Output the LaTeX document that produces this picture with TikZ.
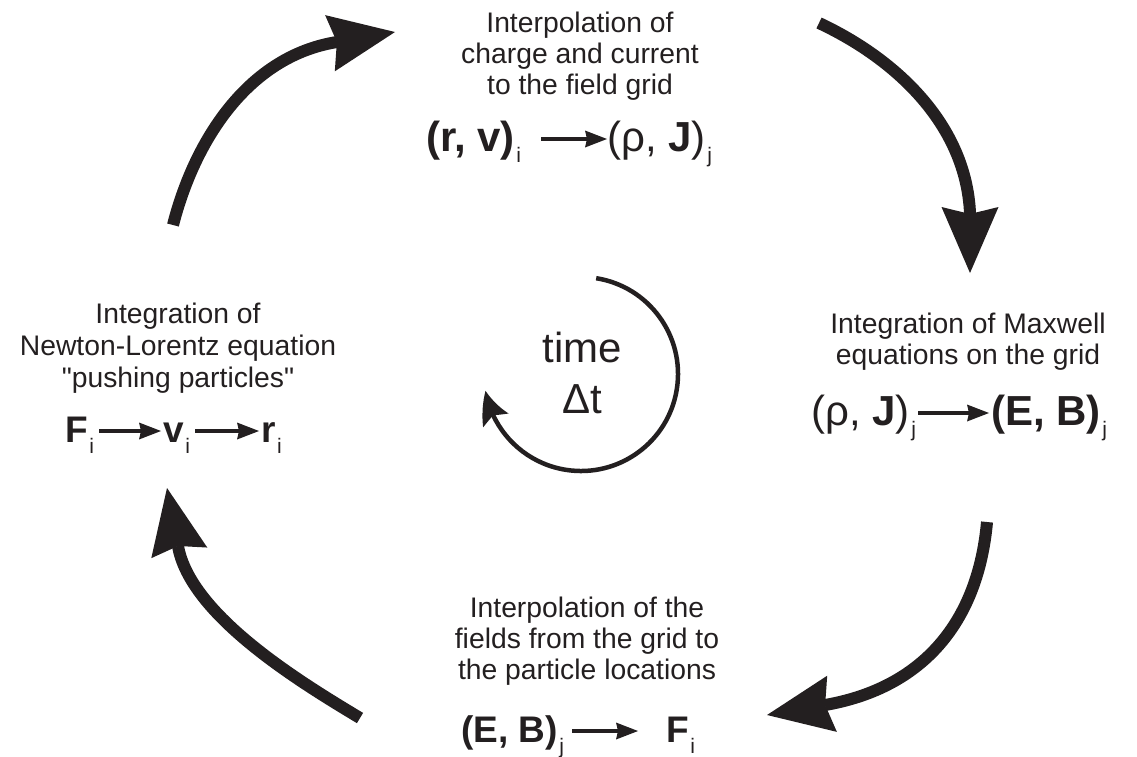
\documentclass[tikz,border=0pt]{standalone}
\usepackage{fontspec}
\setmainfont{Liberation Sans}[Ligatures=TeXOff]
\usetikzlibrary{arrows.meta,bending}
\definecolor{ink}{HTML}{231F20}
\newcommand{\sbs}[1]{\kern1.5pt\raisebox{-11pt}{\fontsize{21}{21}\selectfont\mdseries #1}}
\begin{document}
\begin{tikzpicture}[x=1pt,y=1pt,
  txt/.style={anchor=base, inner sep=0pt, font=\fontsize{28.3}{31}\selectfont, text=ink},
  fml/.style={anchor=base west, inner sep=0pt, font=\fontsize{37}{40}\selectfont, text=ink},
  fmlbig/.style={fml, font=\fontsize{42}{44}\selectfont},
  bigarrow/.style={draw=ink, line width=12pt, -{Stealth[length=66pt,width=57pt,inset=7pt,line width=0pt]}},
  farrow/.style={draw=ink, line width=3.8pt, -{Stealth[length=22pt,width=17pt,inset=2pt,line width=0pt]}},
  cycarrow/.style={draw=ink, line width=4.5pt, -{Stealth[length=32pt,width=29pt,inset=6pt,line width=0pt,bend]}}]
\useasboundingbox (0,0) rectangle (1137,-756);

% top block
\node[txt] (t1) at (580,-32) {Interpolation of};
\node[txt] (t2) at (580,-63) {charge and current};
\node[txt] (t3) at (580,-94) {to the field grid};
\node[fmlbig] (rv) at (426,-151) {\bfseries (r, v)\sbs{i}};
\node[fmlbig] (rj) at (607,-151) {(ρ, \textbf{J})\sbs{j}};
\draw[farrow] ([xshift=20pt,yshift=12pt]rv.base east) -- ([yshift=12pt]rj.base west);

% right block
\node[txt] (r1) at (968,-333) {Integration of Maxwell};
\node[txt] (r2) at (968,-364) {equations on the grid};
\node[fmlbig] (rj2) at (811,-425) {(ρ, \textbf{J})\sbs{j}};
\node[fmlbig] (eb) at (991,-425) {\bfseries (E, B)\sbs{j}};
\draw[farrow] ([xshift=2pt,yshift=12pt]rj2.base east) -- ([xshift=-2pt,yshift=12pt]eb.base west);

% left block
\node[txt] (l1) at (178,-323) {Integration of};
\node[txt] (l2) at (178,-355) {Newton-Lorentz equation};
\node[txt] (l3) at (178,-387) {"pushing particles"};
\node[fml] (F) at (65,-442) {\bfseries F\sbs{i}};
\node[fml] (v) at (163,-442) {\bfseries v\sbs{i}};
\node[fml] (r) at (261,-442) {\bfseries r\sbs{i}};
\draw[farrow] ([xshift=5pt,yshift=11pt]F.base east) -- ([xshift=-2pt,yshift=11pt]v.base west);
\draw[farrow] ([xshift=5pt,yshift=11pt]v.base east) -- ([xshift=-2pt,yshift=11pt]r.base west);

% bottom block
\node[txt] (b1) at (587,-617) {Interpolation of the};
\node[txt] (b2) at (587,-648) {fields from the grid to};
\node[txt] (b3) at (587,-679) {the particle locations};
\node[fml] (eb2) at (461,-742) {\bfseries (E, B)\sbs{j}};
\node[fml] (Fi) at (666,-742) {\bfseries F\sbs{i}};
\draw[farrow] ([xshift=8pt,yshift=11pt]eb2.base east) -- ([xshift=-28pt,yshift=11pt]Fi.base west);

% centre
\node[txt, font=\fontsize{42}{50}\selectfont] (time) at (582,-362) {time};
\node[txt, font=\fontsize{42}{50}\selectfont] (dt) at (582,-413) {Δt};
\coordinate (cyc) at (581,-374);
\draw[cycarrow] ([shift={(81:97)}]cyc) arc[start angle=81, end angle=-170, radius=97];

% big cycle arrows
\coordinate (tlS) at (173,-225); \coordinate (tlT) at (395,-32);
\coordinate (trS) at (819,-23);  \coordinate (trT) at (970,-273);
\coordinate (brS) at (987,-522); \coordinate (brT) at (767,-715);
\coordinate (blS) at (360,-718); \coordinate (blT) at (167,-488);
\draw[bigarrow] (tlS) .. controls (195,-139) and (249,-56) .. (337,-42) -- (tlT);
\draw[bigarrow] (trS) .. controls (898,-60) and (966,-126) .. (970,-213) -- (trT);
\draw[bigarrow] (brS) .. controls (978,-622) and (923,-688) .. (825,-705) -- (brT);
\draw[bigarrow] (blS) .. controls (300,-682) and (190,-615) .. (178,-546) -- (blT);
\end{tikzpicture}
\end{document}
